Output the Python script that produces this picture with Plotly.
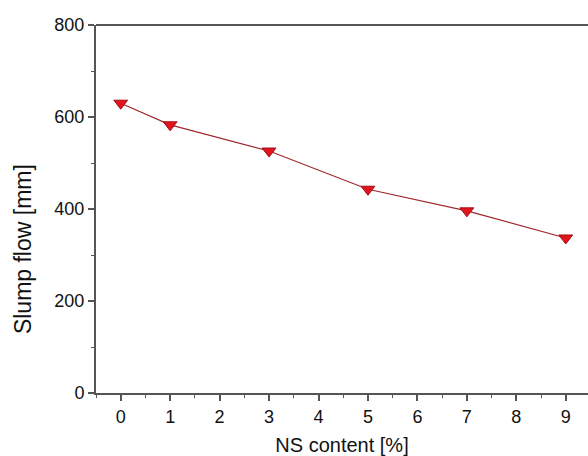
import plotly.graph_objects as go

ns_content = [0, 1, 3, 5, 7, 9]
slump_flow = [630, 583, 526, 443, 396, 337]
x_ticks = [0, 1, 2, 3, 4, 5, 6, 7, 8, 9]
y_ticks = [0, 200, 400, 600, 800]

fig = go.Figure()
fig.add_trace(go.Scatter(
    x=ns_content, y=slump_flow, mode="lines+markers",
    line=dict(color="#a0282c", width=1.2),
    marker=dict(symbol="triangle-down", size=12, color="#e3141c",
                line=dict(color="#9a1016", width=1)),
    showlegend=False,
))

fam = "Liberation Sans, Arial, sans-serif"
tick_font = dict(family=fam, size=18, color="#111")
fig.update_layout(
    width=588, height=456,
    margin=dict(l=96, r=0, t=25, b=63),
    paper_bgcolor="white", plot_bgcolor="white",
    font=tick_font,
    xaxis=dict(
        range=[-0.5, 9.45], tickvals=x_ticks, ticks="outside", ticklen=6,
        tickcolor="#555", tickwidth=1.5,
        showline=True, linecolor="#555", linewidth=2, mirror=False,
        showgrid=False, zeroline=False,
        minor=dict(dtick=0.5, ticks="outside", ticklen=3, tickcolor="#555", tickwidth=1.2),
        title=dict(text="NS content [%]", font=dict(family=fam, size=20, color="#111"), standoff=13),
        tickfont=tick_font,
    ),
    yaxis=dict(
        range=[0, 800], tickvals=y_ticks, ticks="outside", ticklen=6,
        tickcolor="#555", tickwidth=1.5,
        showline=True, linecolor="#555", linewidth=2, mirror=False,
        showgrid=False, zeroline=False,
        minor=dict(dtick=100, ticks="outside", ticklen=3, tickcolor="#555", tickwidth=1.2),
        tickfont=tick_font,
    ),
    annotations=[dict(text="Slump flow [mm]", textangle=-90, xref="paper", yref="paper",
                      x=0, y=0.391, xshift=-73, xanchor="center", yanchor="middle",
                      showarrow=False, font=dict(family=fam, size=23, color="#111"))],
    shapes=[dict(type="line", xref="paper", yref="paper", x0=0, x1=1, y0=1, y1=1,
                 line=dict(color="#555", width=2))],
)

fig.write_html("out.html")
